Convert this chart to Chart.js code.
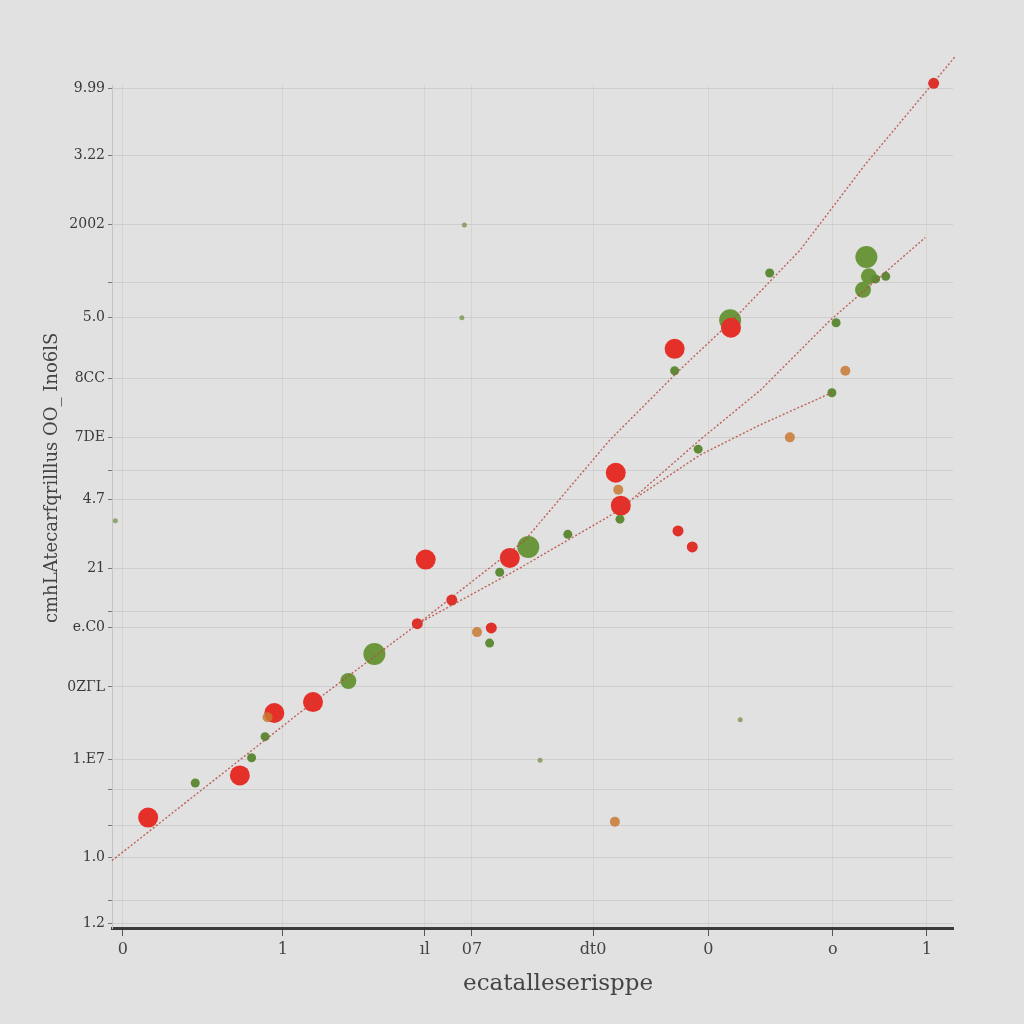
<!DOCTYPE html>
<html>
<head>
<meta charset="utf-8">
<script src="https://cdn.jsdelivr.net/npm/chart.js@4"></script>
<style>
html,body{margin:0;padding:0;background:#e1e1e1;}
#wrap{width:1024px;height:1024px;position:relative;}
</style>
</head>
<body>
<div id="wrap"><canvas id="c" width="1024" height="1024"></canvas></div>
<script>
// ---- data ----
const xTickValues = [1.3, 20.3, 37.2, 42.8, 57.2, 70.9, 85.7, 96.9];
const xTickLabels = ["0", "1", "ıl", "07", "dt0", "0", "o", "1"];
const yTickValues = [99.6, 91.6, 83.5, 76.6, 72.4, 65.2, 58.2, 54.3, 50.8, 42.7, 37.5, 35.7, 28.6, 20.0, 16.4, 12.1, 8.4, 3.3, 0.5];
const yTickLabels = ["9.99", "3.22", "2002", "", "5.0", "8CC", "7DE", "", "4.7", "21", "", "e.C0", "0ZΓL", "1.E7", "", "", "1.0", "", "1.2"];
const xTitle = "\u00a0\u00a0\u00a0\u00a0\u00a0\u00a0\u00a0ecatalleserisppe";
const yTitle = "\u00a0\u00a0\u00a0\u00a0\u00a0\u00a0\u00a0\u00a0\u00a0\u00a0cmhLAtecarfqrilllus OO_ Ino6lS";

const redLargeX = [4.3, 15.2, 19.3, 23.9, 37.3, 47.3, 59.9, 60.5, 66.9, 73.6];
const redLargeY = [13.1, 18.1, 25.5, 26.8, 43.7, 43.9, 54.0, 50.1, 68.7, 71.2];
const redSmallX = [67.3, 69.0, 45.1, 97.7, 36.3, 40.4];
const redSmallY = [47.1, 45.2, 35.6, 100.2, 36.1, 38.9];
const greenLargeX = [31.2, 49.5, 73.5, 89.7];
const greenLargeY = [32.5, 45.2, 72.1, 79.6];
const greenMidX = [28.1, 90.0, 89.3];
const greenMidY = [29.3, 77.3, 75.7];
const greenSmallX = [9.9, 16.6, 18.2, 46.1, 54.2, 69.7, 66.9, 78.2, 90.8, 92.0, 86.1, 85.6, 44.9, 60.4];
const greenSmallY = [17.2, 20.2, 22.7, 42.2, 46.7, 56.8, 66.1, 77.7, 77.0, 77.3, 71.8, 63.5, 33.8, 48.5];
const greenTinyX = [41.9, 50.9, 74.7, 0.4, 41.6];
const greenTinyY = [83.4, 19.9, 24.7, 48.3, 72.4];
const amberX = [18.5, 60.2, 87.2, 43.4, 59.8, 80.6];
const amberY = [25.0, 52.0, 66.1, 35.1, 12.6, 58.2];

const trendAX = [0, 22.4, 36.4, 49.1, 59.2, 67.5, 74.1, 81.8, 89.5, 100.2];
const trendAY = [8.0, 25.6, 36.1, 46.0, 57.9, 66.2, 72.4, 80.4, 90.5, 103.3];
const trendBX = [36.4, 48.5, 60.4, 69.9, 77.1, 85.4, 96.7];
const trendBY = [36.1, 42.7, 49.6, 57.9, 63.8, 72.1, 81.9];
const trendCX = [62.4, 69.9, 77.1, 85.6];
const trendCY = [51.1, 56.1, 59.7, 63.5];

const zip = (xs, ys) => xs.map((x, i) => ({x: x, y: ys[i]}));

const pts = (data, color, r) => ({
  type: 'scatter', data: data, backgroundColor: color, borderColor: color,
  pointRadius: r, pointHoverRadius: r, borderWidth: 0, clip: false
});
const trend = (data) => ({
  type: 'line', data: data, borderColor: 'rgba(185,75,65,0.85)', borderWidth: 1.4,
  borderDash: [2, 2], pointRadius: 0, fill: false, tension: 0, clip: false
});

const serif = '"DejaVu Serif", "Liberation Serif", serif';

new Chart(document.getElementById('c'), {
  type: 'scatter',
  data: {
    datasets: [
      trend(zip(trendAX, trendAY)),
      trend(zip(trendBX, trendBY)),
      trend(zip(trendCX, trendCY)),
      pts(zip(greenTinyX, greenTinyY), 'rgba(110,140,60,0.7)', 2.5),
      pts(zip(amberX, amberY), 'rgba(200,120,50,0.85)', 5),
      pts(zip(greenSmallX, greenSmallY), '#5f8b38', 4.5),
      pts(zip(redSmallX, redSmallY), '#e0302a', 5.5),
      pts(zip(redLargeX, redLargeY), '#e5302a', 10),
      pts(zip(greenMidX, greenMidY), '#6b963c', 8),
      pts(zip(greenLargeX, greenLargeY), '#6b963c', 11)
    ]
  },
  options: {
    responsive: false,
    animation: false,
    layout: {padding: {left: 38, top: 85, right: 71, bottom: 22}},
    plugins: {legend: {display: false}, tooltip: {enabled: false}},
    scales: {
      x: {
        type: 'linear', min: 0, max: 100,
        afterBuildTicks: (s) => { s.ticks = xTickValues.map(v => ({value: v})); },
        afterFit: (s) => { s.height = 74; },
        ticks: {
          callback: (v, i) => xTickLabels[i],
          color: '#444', font: {family: serif, size: 16}, padding: 4, maxRotation: 0, autoSkip: false
        },
        grid: {color: 'rgba(205,198,178,0.45)', lineWidth: 1, drawTicks: true, tickLength: 8, tickColor: '#555'},
        border: {color: '#3a3a3a', width: 3},
        title: {display: true, text: xTitle, color: '#444', font: {family: serif, size: 23}, padding: {top: 4}}
      },
      y: {
        type: 'linear', min: 0, max: 100,
        afterBuildTicks: (s) => { s.ticks = yTickValues.map(v => ({value: v})); },
        afterFit: (s) => { s.width = 74; },
        ticks: {
          callback: (v, i) => yTickLabels[i],
          color: '#3a3a3a', font: {family: serif, size: 14}, padding: 3, autoSkip: false
        },
        grid: {color: 'rgba(195,195,195,0.65)', lineWidth: 1, drawTicks: true, tickLength: 4, tickColor: '#777'},
        border: {color: '#c4c4c4', width: 1},
        title: {display: true, text: yTitle, color: '#444', font: {family: serif, size: 18}, padding: {bottom: 2}}
      }
    }
  },
  plugins: [{
    id: 'bg',
    beforeDraw: (chart) => {
      const ctx = chart.ctx;
      ctx.save();
      ctx.fillStyle = '#e1e1e1';
      ctx.fillRect(0, 0, chart.width, chart.height);
      ctx.restore();
    }
  }]
});
</script>
</body>
</html>
